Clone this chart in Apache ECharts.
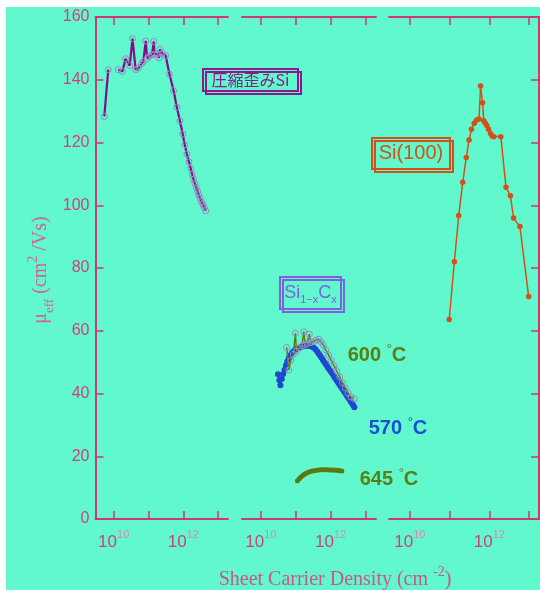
<!DOCTYPE html>
<html><head><meta charset="utf-8">
<script src="https://cdn.jsdelivr.net/npm/echarts@6/dist/echarts.min.js"></script>
<style>html,body{margin:0;padding:0;background:#fff;}#c{width:540px;height:590px;}</style>
</head><body><div id="c"></div>
<script>
// ---------- data (x values are log10 of sheet carrier density, cm^-2) ----------
const yTickValues = [0, 20, 40, 60, 80, 100, 120, 140, 160];
const xTickDecades = [10, 11, 12, 13];
const xLabelDecades = [10, 12];

// Panel 1: compressive strained Si
const strainedLogN = [9.73, 9.845, null, 10.13, 10.25, 10.34, 10.46, 10.54, 10.63, 10.72, 10.80, 10.85, 10.92, 10.96, 11.02, 11.10, 11.15, 11.17, 11.26, 11.30, 11.33, 11.39, 11.49, 11.60, 11.72, 11.81, 11.90, 11.98, 12.04, 12.10, 12.16, 12.21, 12.25, 12.29, 12.33, 12.37, 12.41, 12.44, 12.48, 12.52, 12.56, 12.60, 12.64];
const strainedMu   = [128.3, 143.2, null, 143.2, 142.6, 146.7, 144.5, 153.1, 143.2, 143.8, 145.1, 145.8, 152.4, 146.7, 147.4, 148.0, 152.2, 148.1, 148.3, 147.0, 149.7, 148.4, 147.7, 141.8, 136.5, 131.3, 126.9, 122.7, 119.3, 116.3, 113.8, 111.7, 109.9, 108.3, 106.9, 105.6, 104.4, 103.3, 102.2, 101.1, 100.2, 99.3, 98.2];

// Panel 2: Si(1-x)C(x)
const t570LogN = [10.49, 10.53, 10.56, 10.60, 10.64, 10.68, 10.72, 10.76, 10.80, 10.84, 10.89, 10.94, 10.99, 11.05, 11.11, 11.17, 11.23, 11.29, 11.35, 11.41, 11.47, 11.52, 11.57, 11.62, 11.66, 11.70, 11.74, 11.78, 11.82, 11.86, 11.90, 11.94, 11.98, 12.02, 12.06, 12.10, 12.14, 12.18, 12.22, 12.26, 12.30, 12.34, 12.38, 12.42, 12.46, 12.50, 12.54, 12.58, 12.62, 12.65, 12.68];
const t570Mu   = [46.1, 44.2, 42.6, 44.6, 46.2, 47.6, 49.0, 50.3, 51.3, 52.1, 52.9, 53.5, 54.0, 54.4, 54.7, 54.9, 55.1, 55.2, 55.2, 55.1, 54.9, 54.6, 54.0, 53.3, 52.7, 52.0, 51.4, 50.7, 50.0, 49.4, 48.7, 48.0, 47.4, 46.7, 46.1, 45.4, 44.7, 44.1, 43.4, 42.7, 42.1, 41.4, 40.7, 40.1, 39.4, 38.7, 38.1, 37.4, 36.7, 36.2, 35.6];

const t600LogN = [10.74, 10.80, 10.86, 10.93, 10.99, 11.02, 11.10, 11.18, 11.23, 11.27, 11.33, 11.39, 11.43, 11.50, 11.58, 11.66, 11.72, 11.79, 11.86, 11.94, 12.02, 12.10, 12.18, 12.26, 12.34, 12.42, 12.50, 12.58, 12.68];
const t600Mu   = [54.7, 47.5, 50.5, 52.5, 59.2, 53.5, 54.5, 55.2, 59.7, 55.6, 56.0, 58.9, 56.2, 56.5, 57.0, 57.3, 56.5, 55.5, 53.9, 52.3, 50.5, 48.8, 47.0, 45.3, 43.5, 41.8, 40.1, 38.9, 38.3];

const t645LogN = [11.05, 11.10, 11.15, 11.20, 11.25, 11.30, 11.36, 11.42, 11.48, 11.54, 11.60, 11.66, 11.72, 11.78, 11.84, 11.90, 11.96, 12.02, 12.08, 12.14, 12.20, 12.26, 12.32];
const t645Mu   = [12.2, 12.8, 13.4, 13.9, 14.3, 14.6, 14.9, 15.1, 15.3, 15.4, 15.5, 15.6, 15.7, 15.7, 15.7, 15.7, 15.6, 15.6, 15.6, 15.5, 15.5, 15.4, 15.3];

// Panel 3: Si(100)
const si100LogN = [10.99, 11.12, 11.23, 11.33, 11.42, 11.49, 11.55, 11.62, 11.68, 11.74, 11.78, 11.83, 11.86, 11.90, 11.94, 11.98, 12.03, 12.07, 12.11, 12.29, 12.42, 12.53, 12.61, 12.77, 12.99];
const si100Mu   = [63.6, 82.0, 96.7, 107.3, 115.2, 120.8, 124.2, 126.1, 127.2, 127.5, 138.0, 132.7, 126.9, 126.1, 125.3, 124.2, 122.9, 122.1, 121.8, 121.8, 105.7, 103.0, 95.9, 93.2, 70.9];

// ---------- style ----------
const BG = '#60f8cc';
const AX = '#d0396e';
const LBL = '#d2407a';
const SUPC = '#d98aa8';

function pairs(logs, vals) {
  return logs.map((l, i) => l === null ? [Math.pow(10, 10), '-'] : [Math.pow(10, l), vals[i]]);
}

const panelLogRange = [[9.478, 13.28], [9.46, 13.30], [9.475, 13.25]];
const panelBox = [{left: 95.5, width: 132.5}, {left: 242, width: 134}, {left: 389, width: 150}];

const grid = panelBox.map(p => ({left: p.left, width: p.width, top: 17, height: 502, containLabel: false}));

function expOf(v) { return v > 100 ? Math.round(Math.log10(v)) : Math.round(v); }

const xAxis = [];
panelLogRange.forEach((r, gi) => {
  ['bottom', 'top'].forEach(pos => {
    xAxis.push({
      type: 'log', logBase: 10, gridIndex: gi, position: pos,
      min: Math.pow(10, r[0]), max: Math.pow(10, r[1]),
      axisLine: {show: true, onZero: false, lineStyle: {color: AX, width: 2}},
      axisTick: {show: true, inside: true, length: 8, lineStyle: {color: AX, width: 1.5},
                 customValues: xTickDecades.map(d => Math.pow(10, d))},
      splitLine: {show: false}, minorTick: {show: false},
      axisLabel: pos === 'bottom' ? {
        show: true, margin: 10,
        customValues: xLabelDecades.map(d => Math.pow(10, d)),
        formatter: v => '{b|10}{s|' + expOf(v) + '}',
        rich: {
          b: {fontSize: 17, lineHeight: 26, color: LBL, fontFamily: 'Liberation Sans'},
          s: {fontSize: 11, lineHeight: 11, verticalAlign: 'top', color: SUPC, fontFamily: 'Liberation Sans'}
        }
      } : {show: false}
    });
  });
});

const yBase = {type: 'value', min: 0, max: 160, interval: 20, splitLine: {show: false}};
const yAxis = [
  Object.assign({}, yBase, {gridIndex: 0, position: 'left',
    axisLine: {show: true, onZero: false, lineStyle: {color: AX, width: 2}},
    axisTick: {show: true, inside: true, length: 8, lineStyle: {color: AX, width: 1.5}},
    axisLabel: {show: true, fontSize: 16, color: LBL, margin: 6, fontFamily: 'Liberation Sans'}}),
  Object.assign({}, yBase, {gridIndex: 1, show: false}),
  Object.assign({}, yBase, {gridIndex: 2, position: 'right',
    axisLine: {show: true, onZero: false, lineStyle: {color: AX, width: 2}},
    axisTick: {show: true, inside: true, length: 8, lineStyle: {color: AX, width: 1.5}},
    axisLabel: {show: false}})
];

const series = [
  {type: 'line', xAxisIndex: 0, yAxisIndex: 0, data: pairs(strainedLogN, strainedMu), connectNulls: false,
   symbol: 'circle', symbolSize: 6, lineStyle: {color: '#880a88', width: 2.2},
   itemStyle: {color: 'rgba(0,0,0,0)', borderColor: '#9a86c6', borderWidth: 1}, z: 3},
  {type: 'line', xAxisIndex: 2, yAxisIndex: 1, data: pairs(t570LogN, t570Mu),
   symbol: 'circle', symbolSize: 6, lineStyle: {color: '#1f48d0', width: 2},
   itemStyle: {color: '#1f48d0'}, z: 3},
  {type: 'line', xAxisIndex: 2, yAxisIndex: 1, data: pairs(t600LogN, t600Mu),
   symbol: 'circle', symbolSize: 6, lineStyle: {color: '#5b7d12', width: 1.5},
   itemStyle: {color: 'rgba(0,0,0,0)', borderColor: '#9a86c6', borderWidth: 1}, z: 4},
  {type: 'line', xAxisIndex: 2, yAxisIndex: 1, data: pairs(t645LogN, t645Mu),
   symbol: 'circle', symbolSize: 5, lineStyle: {color: '#5a7a10', width: 2},
   itemStyle: {color: '#5a7a10'}, z: 3},
  {type: 'line', xAxisIndex: 4, yAxisIndex: 2, data: pairs(si100LogN, si100Mu),
   symbol: 'circle', symbolSize: 5.5, lineStyle: {color: '#d4501a', width: 1.5},
   itemStyle: {color: '#d4501a'}, z: 3}
];

function boxLabel(x, y, w, h, color, text, rich) {
  return {
    type: 'group', children: [
      {type: 'rect', shape: {x: x, y: y, width: w, height: h},
       style: {fill: null, stroke: color, lineWidth: 2, shadowColor: color, shadowBlur: 0, shadowOffsetX: 3, shadowOffsetY: 3}},
      {type: 'text', x: x + w / 2, y: y + h / 2,
       style: {text: text, align: 'center', verticalAlign: 'middle', fill: color, rich: rich}}
    ]
  };
}

function tempLabel(x, y, color, t) {
  return {type: 'text', x: x, y: y, style: {
    text: '{n|' + t + ' }{d|°}{n|C}', align: 'center', verticalAlign: 'middle',
    rich: {
      n: {fontSize: 20, fontWeight: 'bold', lineHeight: 24, fill: color, color: color, fontFamily: 'Liberation Sans'},
      d: {fontSize: 13, lineHeight: 13, verticalAlign: 'top', fill: color, color: color, fontFamily: 'Liberation Sans'}
    }}};
}

const graphic = [
  {type: 'rect', shape: {x: 0, y: 0, width: 540, height: 7}, style: {fill: '#fff'}, z: 100},
  {type: 'rect', shape: {x: 0, y: 0, width: 6, height: 590}, style: {fill: '#fff'}, z: 100},
  boxLabel(203, 69, 95, 22, '#8b1a8b', '{c|圧縮歪みSi}', {c: {fontSize: 16, fill: '#8b1a8b', color: '#8b1a8b', fontFamily: 'Noto Sans CJK JP'}}),
  boxLabel(372, 138, 78, 31, '#d4501a', '{c|Si(100)}', {c: {fontSize: 20, fill: '#d4501a', color: '#d4501a', fontFamily: 'Liberation Sans'}}),
  boxLabel(280, 277, 61, 32, '#8060e0', '{c|Si}{s|1−x}{c|C}{s|x}', {
    c: {fontSize: 18, lineHeight: 24, fill: '#8060e0', color: '#8060e0', fontFamily: 'Liberation Sans'},
    s: {fontSize: 11, lineHeight: 11, verticalAlign: 'bottom', fill: '#8060e0', color: '#8060e0', fontFamily: 'Liberation Sans'}}),
  tempLabel(377, 355, '#5a7f12', '600'),
  tempLabel(398, 428, '#1e4fd2', '570'),
  tempLabel(389, 479, '#5a7f12', '645'),
  {type: 'text', x: 41, y: 270, rotation: Math.PI / 2, style: {
    text: '{t|μ}{sub|eff}{t| (cm}{sup|2}{t| /Vs)}', align: 'center', verticalAlign: 'middle',
    rich: {
      t: {fontSize: 20, lineHeight: 30, fill: '#d6609a', color: '#d6609a', fontFamily: 'Liberation Serif'},
      sub: {fontSize: 13, lineHeight: 14, verticalAlign: 'bottom', fill: '#d6609a', color: '#d6609a', fontFamily: 'Liberation Serif'},
      sup: {fontSize: 14, lineHeight: 14, verticalAlign: 'top', fill: '#d6609a', color: '#d6609a', fontFamily: 'Liberation Serif'}
    }}},
  {type: 'text', x: 335, y: 580, style: {
    text: '{t|Sheet Carrier Density (cm }{sup|-2}{t|)}', align: 'center', verticalAlign: 'middle',
    rich: {
      t: {fontSize: 20, lineHeight: 30, fill: '#cf5585', color: '#cf5585', fontFamily: 'Liberation Serif'},
      sup: {fontSize: 14, lineHeight: 14, verticalAlign: 'top', fill: '#cf5585', color: '#cf5585', fontFamily: 'Liberation Serif'}
    }}}
];

const chart = echarts.init(document.getElementById('c'), null, {renderer: 'canvas'});
chart.setOption({
  animation: false,
  backgroundColor: BG,
  grid: grid,
  xAxis: xAxis,
  yAxis: yAxis,
  series: series,
  graphic: graphic
});
</script>
</body></html>
